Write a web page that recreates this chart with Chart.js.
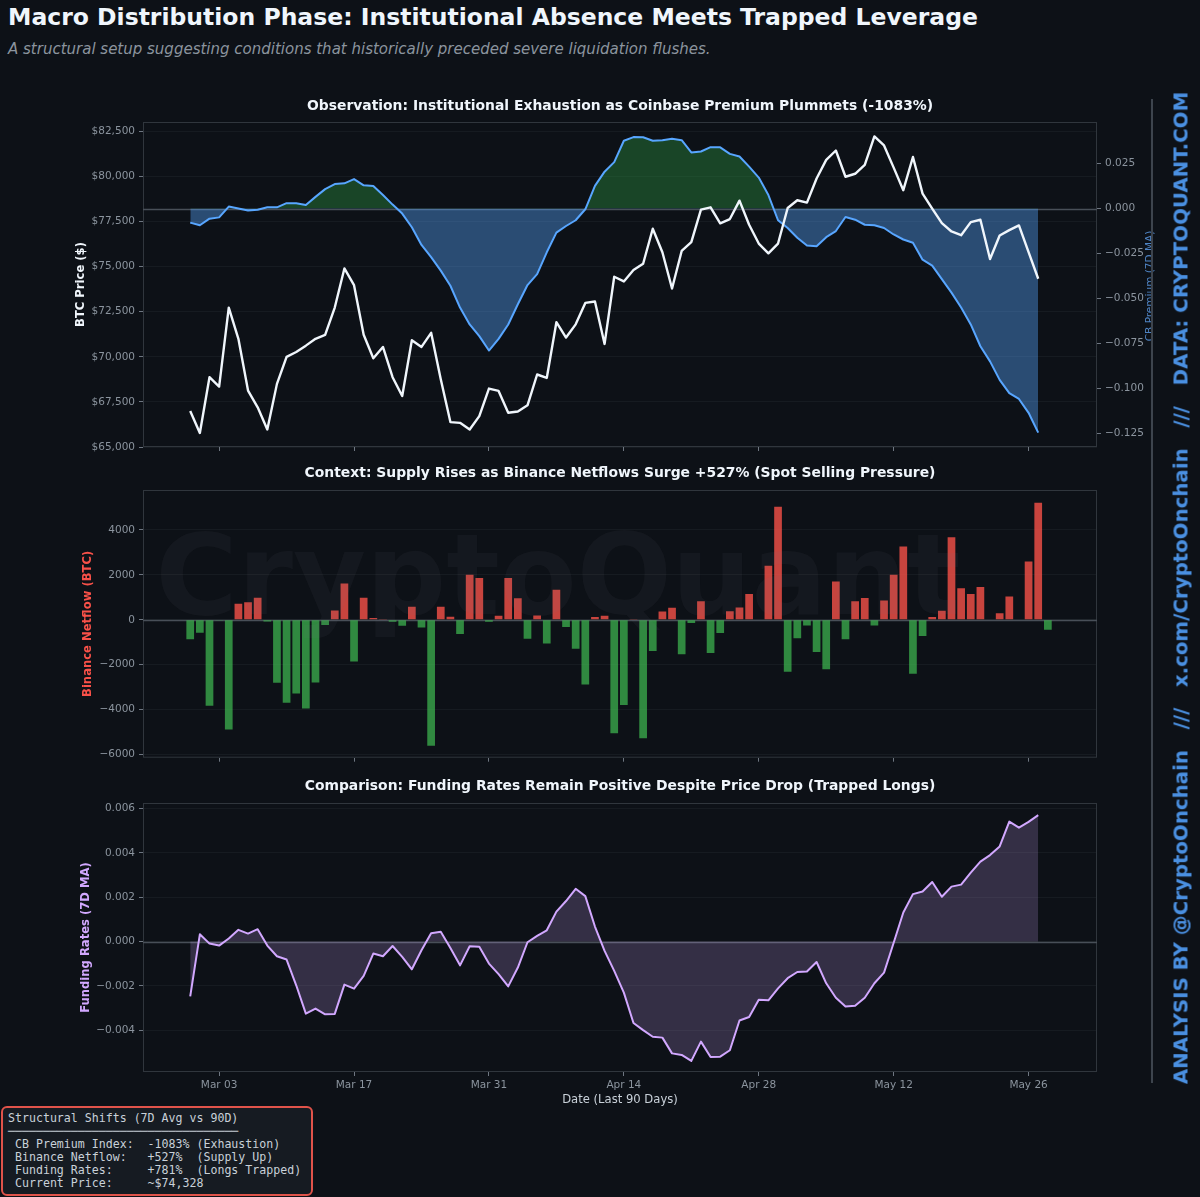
<!DOCTYPE html>
<html>
<head>
<meta charset="utf-8">
<title>Macro Distribution Phase</title>
<script src="https://cdn.jsdelivr.net/npm/chart.js@4.4.1/dist/chart.umd.min.js"></script>
<style>
  html, body { margin: 0; padding: 0; background: #0d1117; }
  body { width: 1200px; height: 1197px; position: relative; overflow: hidden; font-family: "DejaVu Sans", sans-serif; }
  canvas.panel { position: absolute; left: 0; }
  #title { position: absolute; left: 8px; top: 6px; font-weight: bold; font-size: 23.5px; line-height: 23.5px; color: #f0f6fc; white-space: nowrap; }
  #subtitle { position: absolute; left: 8px; top: 42px; font-style: italic; font-size: 15px; line-height: 15px; color: #8b949e; white-space: nowrap; }
  #divider { position: absolute; left: 1151px; top: 99px; width: 1.5px; height: 984px; background: #3d444d; z-index: 2; }
  #sideText { position: absolute; left: 1181px; top: 588px; transform: translate(-50%, -50%) rotate(-90deg);
              font-weight: bold; font-size: 19.8px; color: #4a90e2; white-space: pre; z-index: 2; }
  #stats { position: absolute; left: 1px; top: 1106px; width: 312px; height: 90px; box-sizing: border-box; margin: 0;
           padding: 3.5px 5px; border: 2px solid #e0534a; border-radius: 6px; background: #161b22; color: #c9d1d9;
           font: 11.6px/13px "DejaVu Sans Mono", monospace; white-space: pre; z-index: 3; }
</style>
</head>
<body>
<div id="title">Macro Distribution Phase: Institutional Absence Meets Trapped Leverage</div>
<div id="subtitle">A structural setup suggesting conditions that historically preceded severe liquidation flushes.</div>

<canvas id="cbChart" class="panel" width="1200" height="380" style="top:90px"></canvas>
<canvas id="flowChart" class="panel" width="1200" height="310" style="top:458px"></canvas>
<canvas id="fundChart" class="panel" width="1200" height="345" style="top:770px"></canvas>

<div id="divider"></div>
<div id="sideText">ANALYSIS BY @CryptoOnchain   ///   x.com/CryptoOnchain   ///   DATA: CRYPTOQUANT.COM</div>
<pre id="stats">Structural Shifts (7D Avg vs 90D)
─────────────────────────────────
 CB Premium Index:  -1083% (Exhaustion)
 Binance Netflow:   +527%  (Supply Up)
 Funding Rates:     +781%  (Longs Trapped)
 Current Price:     ~$74,328</pre>

<script>
// day index 0 = Feb 28, one value per day
var xTickDays = [3, 17, 31, 45, 59, 73, 87];
var xTickLabels = ["Mar 03", "Mar 17", "Mar 31", "Apr 14", "Apr 28", "May 12", "May 26"];

var btcPrice = [
  67000, 65780, 68870, 68350, 72730, 71000, 68130, 67200, 65970, 68500,
  70000, 70270, 70620, 71000, 71220, 72730, 74900, 73970, 71220, 69920,
  70550, 68870, 67830, 70920, 70550, 71330, 68760, 66380, 66340, 65970,
  66710, 68240, 68110, 66900, 66970, 67310, 69020, 68830, 71920, 71070,
  71800, 72990, 73070, 70715, 74440, 74180, 74810, 75160, 77100, 75800,
  73790, 75870, 76355, 78160, 78290, 77400, 77640, 78660, 77320, 76280,
  75740, 76280, 78250, 78680, 78550, 79890, 80920, 81440, 79985, 80150,
  80640, 82220, 81720, 80490, 79240, 81080, 79050, 78215, 77415, 76950,
  76745, 77470, 77600, 75425, 76730, 77025, 77285, 75800, 74330
];

var cbPremium = [
  -0.0078, -0.0093, -0.0056, -0.0049, 0.0011, 0.0000, -0.0011, -0.0007, 0.0007, 0.0007,
  0.0030, 0.0030, 0.0020, 0.0065, 0.0108, 0.0136, 0.0140, 0.0164, 0.0129, 0.0125,
  0.0075, 0.0022, -0.0028, -0.0104, -0.0202, -0.0270, -0.0345, -0.0429, -0.0550, -0.0644,
  -0.0709, -0.0789, -0.0724, -0.0644, -0.0532, -0.0425, -0.0364, -0.0243, -0.0134, -0.0097,
  -0.0065, -0.0004, 0.0126, 0.0205, 0.0258, 0.0377, 0.0397, 0.0396, 0.0377, 0.0379,
  0.0388, 0.0380, 0.0312, 0.0317, 0.0341, 0.0340, 0.0304, 0.0289, 0.0233, 0.0172,
  0.0075, -0.0065, -0.0108, -0.0162, -0.0205, -0.0209, -0.0159, -0.0125, -0.0047, -0.0062,
  -0.0090, -0.0093, -0.0108, -0.0144, -0.0172, -0.0190, -0.0284, -0.0317, -0.0392, -0.0467,
  -0.0550, -0.0644, -0.0765, -0.0849, -0.0952, -0.1026, -0.1058, -0.1135, -0.1245
];

var binanceNetflow = [
  -870, -575, -3820, -30, -4880, 708, 780, 975, -75, -2800,
  -3690, -3275, -3940, -2790, -235, 413, 1608, -1860, 975, 75,
  30, -90, -265, 575, -340, -5600, 575, 130, -635, 2005,
  1860, -90, 175, 1860, 960, -840, 190, -1050, 1330, -325,
  -1285, -2875, 120, 175, -5045, -3790, 30, -5265, -1387, 369,
  531, -1534, -147, 826, -1475, -590, 383, 546, 1150, 20,
  2404, 5030, -2316, -826, -250, -1430, -2198, 1696, -870, 826,
  973, -250, 855, 2006, 3260, -2404, -723, 118, 398, 3673,
  1401, 1150, 1460, 0, 295, 1032, 0, 2596, 5207, -442
];

var fundingRates = [
  -0.00247, 0.00033, -0.00009, -0.00018, 0.00014, 0.00053, 0.00036, 0.00056, -0.00018, -0.00066,
  -0.00081, -0.00197, -0.00325, -0.00302, -0.00328, -0.00326, -0.00194, -0.00212, -0.00155, -0.00054,
  -0.00066, -0.00020, -0.00069, -0.00125, -0.00039, 0.00038, 0.00044, -0.00029, -0.00107, -0.00021,
  -0.00023, -0.00099, -0.00147, -0.00202, -0.00117, -0.00003, 0.00026, 0.00051, 0.00135, 0.00183,
  0.00238, 0.00205, 0.00068, -0.00042, -0.00132, -0.00230, -0.00367, -0.00399, -0.00429, -0.00433,
  -0.00504, -0.00511, -0.00538, -0.00451, -0.00520, -0.00519, -0.00490, -0.00356, -0.00340, -0.00262,
  -0.00265, -0.00211, -0.00165, -0.00137, -0.00135, -0.00092, -0.00188, -0.00253, -0.00293, -0.00289,
  -0.00253, -0.00188, -0.00140, -0.00005, 0.00131, 0.00214, 0.00226, 0.00269, 0.00202, 0.00248,
  0.00257, 0.00311, 0.00361, 0.00390, 0.00429, 0.00541, 0.00514, 0.00540, 0.00570
];

var priceTicks = [65000, 67500, 70000, 72500, 75000, 77500, 80000, 82500];
var cbTicks = [-0.125, -0.1, -0.075, -0.05, -0.025, 0, 0.025];
var flowTicks = [-6000, -4000, -2000, 0, 2000, 4000];
var fundTicks = [-0.004, -0.002, 0, 0.002, 0.004, 0.006];

Chart.defaults.font.family = '"DejaVu Sans", sans-serif';
Chart.defaults.color = '#8b949e';

var TICK = '#8b949e';
var TICK_MARK = '#6e7681';
var GRID = 'rgba(139,148,158,0.08)';
var LABEL_FONT = 'bold 11.6px "DejaVu Sans"';
var X_MIN = -4.9, X_MAX = 94.1;

function points(arr) {
  return arr.map(function (v, i) { return { x: i, y: v }; });
}

function minus(s) {
  return s.replace('-', '\u2212');
}

function setTicks(list) {
  return function (scale) { scale.ticks = list.map(function (v) { return { value: v }; }); };
}

function xAxis(showLabels, height) {
  return {
    type: 'linear', min: X_MIN, max: X_MAX, offset: false,
    afterBuildTicks: setTicks(xTickDays),
    afterFit: function (s) { s.height = height; },
    grid: { display: true, drawOnChartArea: false, drawTicks: true, tickLength: 4, tickColor: TICK_MARK, offset: false },
    border: { display: false },
    ticks: {
      display: showLabels, padding: 3, color: TICK, font: { size: 10.5 }, maxRotation: 0, autoSkip: false,
      callback: function (v, i) { return xTickLabels[i]; }
    }
  };
}

function yAxis(pos, min, max, list, fmt, width, grid) {
  return {
    position: pos, min: min, max: max,
    afterBuildTicks: setTicks(list),
    afterFit: function (s) { s.width = width; },
    grid: { display: true, drawOnChartArea: grid, color: GRID, tickLength: 4, tickColor: TICK_MARK },
    border: { display: false },
    ticks: { padding: 4, color: TICK, font: { size: 10.5 }, callback: fmt }
  };
}

// frame, zero line, titles, axis labels, watermark
var panelDecor = {
  id: 'panelDecor',
  beforeDatasetsDraw: function (chart, args, o) {
    var ctx = chart.ctx, a = chart.chartArea;
    ctx.save();
    ctx.strokeStyle = '#30363d';
    ctx.lineWidth = 1;
    ctx.strokeRect(a.left + 0.5, a.top + 0.5, a.right - a.left - 1, a.bottom - a.top - 1);
    var y0 = Math.round(chart.scales[o.zeroAxis].getPixelForValue(0)) + 0.5;
    ctx.strokeStyle = '#484f58';
    ctx.lineWidth = 1.5;
    ctx.beginPath();
    ctx.moveTo(a.left, y0);
    ctx.lineTo(a.right, y0);
    ctx.stroke();
    ctx.restore();
  },
  afterDatasetsDraw: function (chart, args, o) {
    if (!o.watermark) return;
    var ctx = chart.ctx;
    ctx.save();
    ctx.font = 'bold 112px "DejaVu Sans"';
    ctx.fillStyle = 'rgba(110,118,129,0.08)';
    ctx.textAlign = 'center';
    ctx.textBaseline = 'alphabetic';
    ctx.fillText(o.watermark.text, o.watermark.x, o.watermark.y);
    ctx.restore();
  },
  afterDraw: function (chart, args, o) {
    var ctx = chart.ctx, a = chart.chartArea;
    var midX = (a.left + a.right) / 2, midY = (a.top + a.bottom) / 2;
    ctx.save();
    ctx.textAlign = 'center';
    ctx.textBaseline = 'middle';
    ctx.fillStyle = '#f0f6fc';
    ctx.font = 'bold 13.9px "DejaVu Sans"';
    ctx.fillText(o.title, midX, o.titleY);
    (o.labels || []).forEach(function (l) {
      ctx.save();
      ctx.translate(l.x, l.y !== undefined ? l.y : midY);
      ctx.rotate(-Math.PI / 2);
      ctx.font = l.font;
      ctx.fillStyle = l.color;
      ctx.fillText(l.text, 0, 0);
      ctx.restore();
    });
    if (o.xTitle) {
      ctx.font = '11.6px "DejaVu Sans"';
      ctx.fillStyle = '#c9d1d9';
      ctx.fillText(o.xTitle, midX, o.xTitleY);
    }
    ctx.restore();
  }
};

var common = {
  responsive: false,
  animation: false,
  events: []
};

// Panel 1: BTC price + Coinbase premium
new Chart(document.getElementById('cbChart').getContext('2d'), {
  type: 'line',
  data: {
    datasets: [
      {
        label: 'BTC Price', data: points(btcPrice), yAxisID: 'y',
        borderColor: '#f0f6fc', borderWidth: 2.4, pointRadius: 0, tension: 0,
        borderJoinStyle: 'round', fill: false
      },
      {
        label: 'CB Premium (7D MA)', data: points(cbPremium), yAxisID: 'y1',
        borderColor: '#58a6ff', borderWidth: 2, pointRadius: 0, tension: 0, borderJoinStyle: 'round',
        fill: { target: { value: 0 }, above: 'rgba(46,160,67,0.37)', below: 'rgba(88,166,255,0.4)' }
      }
    ]
  },
  options: Object.assign({}, common, {
    layout: { padding: { top: 32, left: 0, right: 0, bottom: 0 } },
    scales: {
      x: xAxis(false, 23),
      y: yAxis('left', 65000, 83020, priceTicks, function (v) { return '$' + v.toLocaleString('en-US'); }, 143, true),
      y1: yAxis('right', -0.1325, 0.0481, cbTicks, function (v) { return minus(v.toFixed(3)); }, 103, false)
    },
    plugins: {
      legend: { display: false }, tooltip: { enabled: false },
      panelDecor: {
        zeroAxis: 'y1', titleY: 16,
        title: 'Observation: Institutional Exhaustion as Coinbase Premium Plummets (-1083%)',
        labels: [
          { text: 'BTC Price ($)', x: 81, font: LABEL_FONT, color: '#f0f6fc' },
          { text: 'CB Premium (7D MA)', x: 1150, y: 196, font: '10.5px "DejaVu Sans"', color: '#4f84c4' }
        ]
      }
    }
  }),
  plugins: [panelDecor]
});

// Panel 2: Binance netflow bars
new Chart(document.getElementById('flowChart').getContext('2d'), {
  type: 'bar',
  data: {
    datasets: [{
      label: 'Binance Netflow', data: points(binanceNetflow),
      backgroundColor: function (c) { return c.raw && c.raw.y >= 0 ? 'rgba(248,81,73,0.8)' : 'rgba(63,185,80,0.72)'; },
      borderWidth: 0, barPercentage: 0.8, categoryPercentage: 1.0
    }]
  },
  options: Object.assign({}, common, {
    layout: { padding: { top: 32, left: 0, right: 103, bottom: 0 } },
    scales: {
      x: xAxis(false, 9),
      y: yAxis('left', -6133, 5770, flowTicks, function (v) { return minus(String(v)); }, 143, true)
    },
    plugins: {
      legend: { display: false }, tooltip: { enabled: false },
      panelDecor: {
        zeroAxis: 'y', titleY: 15,
        title: 'Context: Supply Rises as Binance Netflows Surge +527% (Spot Selling Pressure)',
        labels: [{ text: 'Binance Netflow (BTC)', x: 88, font: LABEL_FONT, color: '#f85149' }],
        watermark: { text: 'CryptoQuant', x: 558, y: 156 }
      }
    }
  }),
  plugins: [panelDecor]
});

// Panel 3: funding rates
new Chart(document.getElementById('fundChart').getContext('2d'), {
  type: 'line',
  data: {
    datasets: [{
      label: 'Funding Rates (7D MA)', data: points(fundingRates),
      borderColor: '#d2a8ff', borderWidth: 2, pointRadius: 0, tension: 0, borderJoinStyle: 'round',
      fill: { target: { value: 0 }, above: 'rgba(210,168,255,0.2)', below: 'rgba(210,168,255,0.2)' }
    }]
  },
  options: Object.assign({}, common, {
    layout: { padding: { top: 33, left: 0, right: 103, bottom: 0 } },
    scales: {
      x: xAxis(true, 43),
      y: yAxis('left', -0.00588, 0.00625, fundTicks, function (v) { return minus(v.toFixed(3)); }, 143, true)
    },
    plugins: {
      legend: { display: false }, tooltip: { enabled: false },
      panelDecor: {
        zeroAxis: 'y', titleY: 16,
        title: 'Comparison: Funding Rates Remain Positive Despite Price Drop (Trapped Longs)',
        labels: [{ text: 'Funding Rates (7D MA)', x: 86, font: LABEL_FONT, color: '#d2a8ff' }],
        xTitle: 'Date (Last 90 Days)', xTitleY: 330
      }
    }
  }),
  plugins: [panelDecor]
});
</script>
</body>
</html>
